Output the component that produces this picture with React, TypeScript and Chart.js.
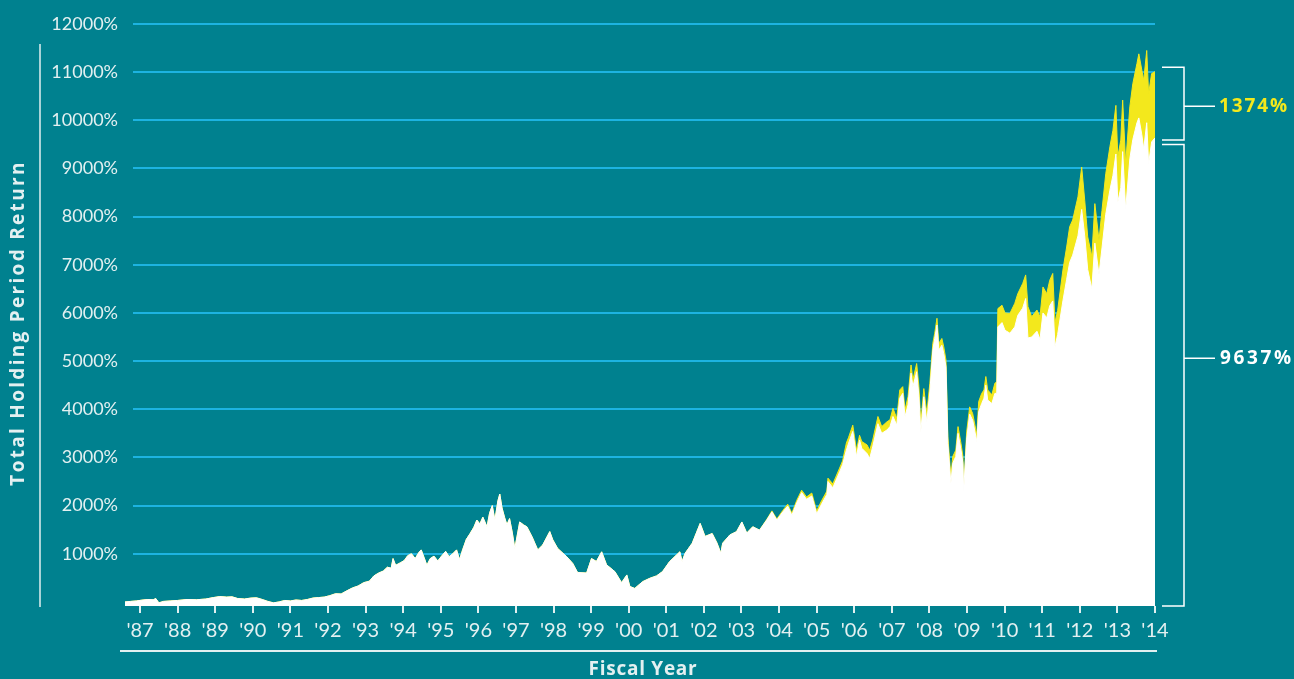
import React, { useEffect, useRef } from 'react';
import { Chart, registerables } from 'chart.js';

Chart.register(...registerables);

// Decimal fiscal-year positions of the traced points
const years = [
  1986.60, 1986.75, 1986.90, 1987.08, 1987.21, 1987.35, 1987.42, 1987.50, 1987.62, 1987.80,
  1988.00, 1988.25, 1988.50, 1988.75, 1988.95, 1989.12, 1989.30, 1989.45, 1989.60, 1989.78,
  1989.95, 1990.10, 1990.25, 1990.40, 1990.55, 1990.70, 1990.85, 1991.00, 1991.15, 1991.30,
  1991.45, 1991.60, 1991.75, 1991.90, 1992.05, 1992.20, 1992.35, 1992.50, 1992.65, 1992.80,
  1992.95, 1993.10, 1993.22, 1993.35, 1993.47, 1993.58, 1993.68, 1993.73, 1993.80, 1993.92,
  1994.03, 1994.12, 1994.22, 1994.32, 1994.42, 1994.48, 1994.58, 1994.63, 1994.72, 1994.82,
  1994.92, 1995.03, 1995.13, 1995.22, 1995.32, 1995.42, 1995.50, 1995.58, 1995.68, 1995.78,
  1995.88, 1995.96, 1996.04, 1996.12, 1996.23, 1996.30, 1996.37, 1996.44, 1996.52, 1996.57,
  1996.63, 1996.70, 1996.76, 1996.83, 1996.90, 1996.97, 1997.10, 1997.20, 1997.29, 1997.43,
  1997.58, 1997.71, 1997.90, 1997.98, 1998.11, 1998.35, 1998.51, 1998.64, 1998.88, 1999.01,
  1999.14, 1999.28, 1999.41, 1999.63, 1999.81, 1999.95, 2000.03, 2000.16, 2000.37, 2000.56,
  2000.74, 2000.90, 2001.09, 2001.36, 2001.42, 2001.50, 2001.69, 2001.90, 2002.03, 2002.22,
  2002.35, 2002.45, 2002.50, 2002.69, 2002.87, 2003.01, 2003.14, 2003.30, 2003.48, 2003.67,
  2003.81, 2003.94, 2004.10, 2004.23, 2004.34, 2004.47, 2004.60, 2004.73, 2004.87, 2005.00,
  2005.13, 2005.27, 2005.30, 2005.43, 2005.61, 2005.69, 2005.79, 2005.85, 2005.96, 2006.06,
  2006.14, 2006.20, 2006.34, 2006.41, 2006.49, 2006.63, 2006.73, 2006.87, 2006.95, 2007.03,
  2007.13, 2007.21, 2007.29, 2007.35, 2007.43, 2007.51, 2007.56, 2007.66, 2007.72, 2007.77,
  2007.85, 2007.93, 2008.01, 2008.09, 2008.14, 2008.20, 2008.25, 2008.33, 2008.38, 2008.44,
  2008.49, 2008.57, 2008.62, 2008.70, 2008.76, 2008.84, 2008.89, 2008.91, 2008.99, 2009.07,
  2009.15, 2009.26, 2009.31, 2009.39, 2009.45, 2009.50, 2009.55, 2009.66, 2009.74, 2009.79,
  2009.82, 2009.93, 2010.01, 2010.14, 2010.27, 2010.35, 2010.48, 2010.56, 2010.62, 2010.72,
  2010.86, 2010.94, 2011.02, 2011.12, 2011.20, 2011.28, 2011.34, 2011.41, 2011.55, 2011.65,
  2011.73, 2011.81, 2011.95, 2012.05, 2012.13, 2012.21, 2012.32, 2012.40, 2012.51, 2012.59,
  2012.69, 2012.80, 2012.88, 2012.96, 2013.01, 2013.09, 2013.14, 2013.22, 2013.33, 2013.41,
  2013.52, 2013.57, 2013.65, 2013.70, 2013.78, 2013.83, 2013.91, 2014.00,
];

// Price-only holding period return (white area), %
const priceReturn = [
  0, 10, 20, 40, 50, 45, 70, -20, 10, 20,
  30, 50, 45, 60, 90, 110, 100, 105, 70, 60,
  80, 85, 50, 10, -20, 0, 30, 20, 40, 30,
  50, 80, 90, 100, 130, 170, 165, 230, 290, 330,
  400, 430, 540, 600, 640, 720, 700, 900, 760, 810,
  860, 960, 1000, 900, 1030, 1080, 870, 760, 900, 950,
  850, 960, 1050, 940, 1000, 1080, 880, 1080, 1300, 1420,
  1550, 1700, 1620, 1760, 1560, 1850, 2000, 1700, 2100, 2240,
  1950, 1750, 1600, 1730, 1450, 1110, 1660, 1600, 1560, 1350,
  1080, 1180, 1460, 1290, 1110, 940, 800, 610, 600, 900,
  840, 1040, 770, 630, 400, 560, 320, 280, 420, 490,
  540, 630, 840, 1040, 840, 1010, 1220, 1630, 1360, 1420,
  1220, 1010, 1220, 1390, 1460, 1660, 1430, 1560, 1490, 1700,
  1870, 1700, 1870, 1990, 1800, 2060, 2270, 2130, 2200, 1830,
  2030, 2230, 2500, 2370, 2700, 2850, 3150, 3300, 3540, 3020,
  3360, 3190, 3080, 2980, 3220, 3700, 3500, 3570, 3640, 3850,
  3670, 4230, 4330, 3850, 4090, 4750, 4470, 4780, 4260, 3530,
  4260, 3740, 4360, 5230, 5470, 5750, 5230, 5330, 5160, 4880,
  3290, 2460, 2880, 3020, 3500, 3150, 2880, 2300, 3380, 3900,
  3770, 3330, 3950, 4120, 4230, 4500, 4190, 4120, 4330, 4330,
  5710, 5800, 5640, 5580, 5710, 5950, 6100, 6300, 5480, 5500,
  5620, 5450, 6000, 5900, 6150, 6250, 5300, 5550, 6250, 6700,
  7050, 7200, 7600, 8150, 7600, 6900, 6500, 7450, 6800, 7350,
  8050, 8550, 8850, 9300, 8300, 8600, 9350, 8150, 9200, 9600,
  9950, 10050, 9700, 9400, 9950, 9100, 9550, 9637,
];

// Total holding period return incl. dividends (yellow area), %
const totalReturn = [
  0, 10, 20, 40, 50, 45, 70, -20, 10, 20,
  30, 50, 45, 60, 90, 110, 100, 105, 70, 60,
  80, 85, 50, 10, -20, 0, 30, 20, 40, 30,
  50, 80, 90, 100, 130, 170, 165, 230, 290, 330,
  400, 430, 540, 600, 640, 720, 700, 900, 760, 810,
  860, 960, 1000, 900, 1030, 1080, 870, 760, 900, 950,
  850, 960, 1050, 940, 1000, 1080, 880, 1080, 1300, 1420,
  1550, 1700, 1620, 1760, 1560, 1850, 2000, 1700, 2100, 2240,
  1950, 1750, 1600, 1730, 1450, 1110, 1660, 1600, 1560, 1350,
  1080, 1180, 1460, 1290, 1110, 940, 800, 610, 600, 900,
  840, 1040, 770, 630, 400, 560, 320, 280, 420, 490,
  540, 630, 840, 1040, 840, 1010, 1220, 1630, 1360, 1420,
  1220, 1010, 1220, 1390, 1460, 1660, 1430, 1560, 1490, 1710,
  1890, 1720, 1900, 2030, 1840, 2110, 2320, 2180, 2260, 1890,
  2100, 2300, 2570, 2450, 2780, 2930, 3300, 3420, 3670, 3150,
  3460, 3330, 3260, 3150, 3360, 3850, 3640, 3740, 3780, 4020,
  3810, 4400, 4470, 3990, 4260, 4920, 4610, 4950, 4470, 3710,
  4430, 3910, 4540, 5370, 5580, 5890, 5370, 5470, 5300, 5020,
  3430, 2600, 3020, 3150, 3640, 3290, 3020, 2330, 3530, 4050,
  3910, 3470, 4160, 4330, 4400, 4680, 4400, 4300, 4540, 4570,
  6090, 6160, 6000, 5990, 6200, 6400, 6610, 6790, 6130, 5920,
  6060, 5920, 6540, 6400, 6680, 6820, 5800, 6050, 6890, 7370,
  7790, 7930, 8410, 9030, 8340, 7580, 7170, 8270, 7510, 8130,
  8890, 9450, 9790, 10310, 9240, 9590, 10420, 9100, 10280, 10760,
  11180, 11380, 11040, 10830, 11450, 10550, 10970, 11011,
];

const xTickYears = [
  1987, 1988, 1989, 1990, 1991, 1992, 1993, 1994, 1995, 1996, 1997, 1998, 1999, 2000,
  2001, 2002, 2003, 2004, 2005, 2006, 2007, 2008, 2009, 2010, 2011, 2012, 2013, 2014,
];
const yTickValues = [1000, 2000, 3000, 4000, 5000, 6000, 7000, 8000, 9000, 10000, 11000, 12000];

const dividendLabel = '1374%';
const priceLabel = '9637%';
const yTitle = 'Total Holding Period Return';
const xTitle = 'Fiscal Year';

const TEAL = '#00818F';
const GRID = '#1DB3E1';
const TEXT = '#E3F0F1';
const YELLOW = '#F3E81C';
const LINE = '#E2F0F1';

function fitText(ctx: CanvasRenderingContext2D, text: string, target: number) {
  (ctx as any).letterSpacing = '0px';
  const w = ctx.measureText(text).width;
  let ls = (target - w) / Math.max(1, text.length - 1);
  ls = Math.max(-0.5, Math.min(3, ls));
  (ctx as any).letterSpacing = ls.toFixed(2) + 'px';
}

const decorPlugin = {
  id: 'decor',
  beforeDraw(chart: any) {
    const { ctx, width, height } = chart;
    ctx.save();
    ctx.fillStyle = TEAL;
    ctx.fillRect(0, 0, width, height);
    ctx.restore();
  },
  beforeDatasetsDraw(chart: any) {
    const { ctx, chartArea } = chart;
    const y = chart.scales.y;
    ctx.save();
    ctx.strokeStyle = GRID;
    ctx.lineWidth = 2;
    for (const v of yTickValues) {
      const py = Math.round(y.getPixelForValue(v));
      ctx.beginPath();
      ctx.moveTo(chartArea.left + 8, py);
      ctx.lineTo(chartArea.right, py);
      ctx.stroke();
    }
    ctx.restore();
  },
  afterDraw(chart: any) {
    const { ctx, chartArea } = chart;
    const y = chart.scales.y;
    ctx.save();
    ctx.strokeStyle = LINE;
    ctx.lineWidth = 1.5;
    // left vertical rule
    ctx.beginPath();
    ctx.moveTo(40, 44);
    ctx.lineTo(40, chartArea.bottom + 1);
    ctx.stroke();
    // rule beneath the year labels
    ctx.lineWidth = 2;
    ctx.beginPath();
    ctx.moveTo(chartArea.left - 5, 651);
    ctx.lineTo(chartArea.right + 2, 651);
    ctx.stroke();

    // y title
    ctx.fillStyle = TEXT;
    ctx.font = 'bold 19px "Open Sans", Lato, sans-serif';
    ctx.textAlign = 'center';
    ctx.textBaseline = 'middle';
    ctx.save();
    ctx.translate(19, 323);
    ctx.rotate(-Math.PI / 2);
    fitText(ctx, yTitle, 323);
    ctx.fillText(yTitle, 0, 0);
    ctx.restore();

    // x title
    ctx.save();
    ctx.font = 'bold 19px "Open Sans", Lato, sans-serif';
    fitText(ctx, xTitle, 108);
    ctx.textAlign = 'center';
    ctx.textBaseline = 'middle';
    ctx.fillStyle = TEXT;
    ctx.fillText(xTitle, 643, 670);
    ctx.restore();

    // brackets
    const r = chartArea.right;
    const x0 = r + 7;
    const x1 = r + 29;
    const x2 = r + 60;
    const topA = y.getPixelForValue(11100);
    const topB = y.getPixelForValue(9590);
    const topMid = y.getPixelForValue(10290);
    const lowA = y.getPixelForValue(9500);
    const lowB = chartArea.bottom;
    const lowMid = y.getPixelForValue(5060);
    ctx.strokeStyle = '#FFFFFF';
    ctx.lineWidth = 1.5;
    ctx.beginPath();
    ctx.moveTo(x0, topA); ctx.lineTo(x1, topA); ctx.lineTo(x1, topB); ctx.lineTo(x0, topB);
    ctx.moveTo(x1, topMid); ctx.lineTo(x2, topMid);
    ctx.moveTo(x0, lowA); ctx.lineTo(x1, lowA); ctx.lineTo(x1, lowB); ctx.lineTo(x0, lowB);
    ctx.moveTo(x1, lowMid); ctx.lineTo(x2, lowMid);
    ctx.stroke();

    ctx.font = 'bold 19px "Open Sans", Lato, sans-serif';
    ctx.textAlign = 'left';
    ctx.textBaseline = 'middle';
    ctx.save();
    fitText(ctx, dividendLabel, 68);
    ctx.fillStyle = YELLOW;
    ctx.fillText(dividendLabel, x2 + 4, topMid);
    ctx.restore();
    ctx.save();
    fitText(ctx, priceLabel, 71);
    ctx.fillStyle = '#FFFFFF';
    ctx.fillText(priceLabel, x2 + 5, lowMid);
    ctx.restore();
    ctx.restore();
  },
};

export default function App() {
  const ref = useRef<HTMLCanvasElement | null>(null);

  useEffect(() => {
    if (!ref.current) return;
    const price = years.map((x, i) => ({ x, y: priceReturn[i] }));
    const total = years.map((x, i) => ({ x, y: totalReturn[i] }));
    const chart = new Chart(ref.current, {
      type: 'line',
      data: {
        datasets: [
          {
            label: 'Price return',
            data: price,
            order: 0,
            borderColor: '#FFFFFF',
            borderWidth: 1,
            backgroundColor: '#FFFFFF',
            fill: 'start',
            pointRadius: 0,
            tension: 0,
          },
          {
            label: 'Total return',
            data: total,
            order: 1,
            borderColor: YELLOW,
            borderWidth: 1,
            backgroundColor: YELLOW,
            fill: 'start',
            pointRadius: 0,
            tension: 0,
          },
        ],
      },
      options: {
        animation: false,
        responsive: false,
        maintainAspectRatio: false,
        devicePixelRatio: 1,
        layout: { padding: { top: 24, right: 139, left: 0, bottom: 0 } },
        plugins: {
          legend: { display: false },
          tooltip: { enabled: false },
        },
        scales: {
          x: {
            type: 'linear',
            min: 1986.6,
            max: 2014,
            afterBuildTicks: (axis: any) => {
              axis.ticks = xTickYears.map((v) => ({ value: v }));
            },
            afterFit: (axis: any) => {
              axis.height = 73;
            },
            border: { display: false },
            grid: {
              display: true,
              drawOnChartArea: false,
              drawTicks: true,
              tickLength: 7,
              color: LINE,
              lineWidth: 2,
            },
            ticks: {
              autoSkip: false,
              maxRotation: 0,
              padding: 6,
              color: TEXT,
              font: { family: 'Lato', size: 20 },
              callback: (v: any) => "'" + String(v).slice(2),
            },
          },
          y: {
            type: 'linear',
            min: -85,
            max: 12000,
            afterBuildTicks: (axis: any) => {
              axis.ticks = yTickValues.map((v) => ({ value: v }));
            },
            afterFit: (axis: any) => {
              axis.width = 125;
            },
            border: { display: false },
            grid: { display: false, drawTicks: false },
            ticks: {
              padding: 7,
              color: TEXT,
              font: { family: 'Lato', size: 18 },
              callback: (v: any) => v + '%',
            },
          },
        },
      },
      plugins: [decorPlugin],
    });
    return () => chart.destroy();
  }, []);

  return (
    <div style={{ position: 'fixed', left: 0, top: 0, width: 1294, height: 679, background: TEAL }}>
      <canvas ref={ref} width={1294} height={679} style={{ display: 'block', width: 1294, height: 679 }} />
    </div>
  );
}
